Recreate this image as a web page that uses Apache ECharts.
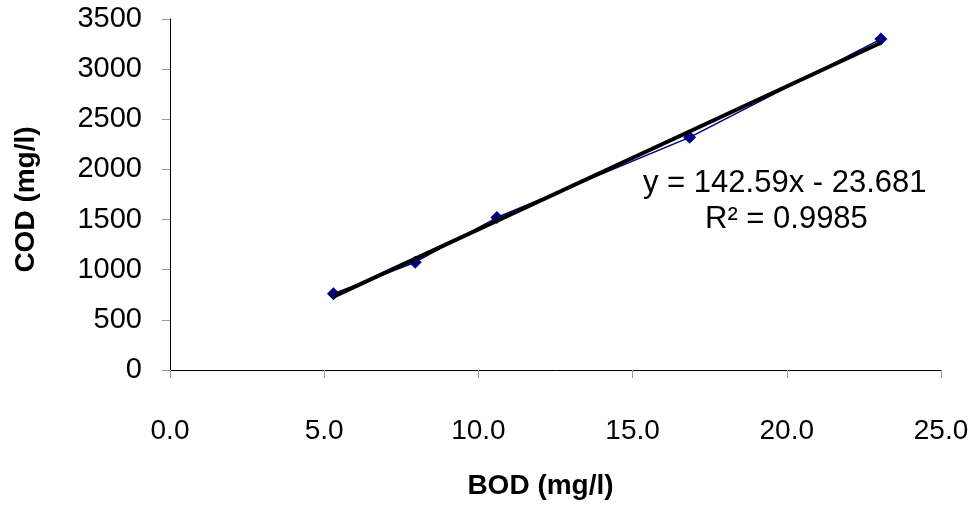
<!DOCTYPE html>
<html>
<head>
<meta charset="utf-8">
<script src="https://cdn.jsdelivr.net/npm/echarts@6/dist/echarts.min.js"></script>
<style>
html,body{margin:0;padding:0;background:#fff;}
#main{width:975px;height:505px;}
</style>
</head>
<body>
<div id="main"></div>
<script>
// BOD / COD measurements
var bodValues = [5.3, 7.95, 10.6, 16.85, 23.05];
var codValues = [760, 1075, 1520, 2320, 3300];
// linear trendline ends
var trendX = [5.3, 23.05];
var trendY = [732, 3263];
var trendText = ['y = 142.59x - 23.681', 'R² = 0.9985'];

var pts = bodValues.map(function (v, i) { return [v, codValues[i]]; });
var trendPts = trendX.map(function (v, i) { return [v, trendY[i]]; });

var font = 'Liberation Sans, Arial, sans-serif';
var chart = echarts.init(document.getElementById('main'));
var option = {
    animation: false,
    textStyle: { fontFamily: font },
    grid: { left: 170, right: 34, top: 19, bottom: 134 },
    xAxis: {
        type: 'value',
        min: 0, max: 25, interval: 5,
        name: 'BOD (mg/l)',
        nameLocation: 'middle',
        nameGap: 102,
        nameTextStyle: { fontSize: 28, fontWeight: 'bold', color: '#000', padding: [0, 30, 0, 0] },
        axisLine: { show: true, onZero: false, lineStyle: { color: '#000', width: 1 } },
        axisTick: { show: true, length: 8, lineStyle: { color: '#999' } },
        axisLabel: {
            margin: 47, fontSize: 28, color: '#000',
            formatter: function (v) { return v.toFixed(1); }
        },
        splitLine: { show: false }
    },
    yAxis: {
        type: 'value',
        min: 0, max: 3500, interval: 500,
        name: 'COD (mg/l)',
        nameLocation: 'middle',
        nameGap: 130,
        nameTextStyle: { fontSize: 28, fontWeight: 'bold', color: '#000', padding: [0, 10, 0, 0] },
        axisLine: { show: true, onZero: false, lineStyle: { color: '#000', width: 1 } },
        axisTick: { show: true, length: 8, lineStyle: { color: '#999' } },
        axisLabel: { margin: 28, fontSize: 29, color: '#000', formatter: function (v) { return String(v); } },
        splitLine: { show: false }
    },
    series: [{
        type: 'line',
        data: pts,
        symbol: 'diamond',
        symbolSize: 13,
        lineStyle: { color: '#000080', width: 1.5 },
        itemStyle: { color: '#000080' },
        z: 2
    }, {
        type: 'line',
        data: trendPts,
        symbol: 'none',
        lineStyle: { color: '#000', width: 4 },
        z: 3
    }],
    graphic: [{
        type: 'text',
        left: 643, top: 168,
        style: { text: trendText[0], fontSize: 31, fill: '#000', fontFamily: font }
    }, {
        type: 'text',
        left: 705, top: 204,
        style: { text: trendText[1], fontSize: 31, fill: '#000', fontFamily: font }
    }]
};
chart.setOption(option);
</script>
</body>
</html>
